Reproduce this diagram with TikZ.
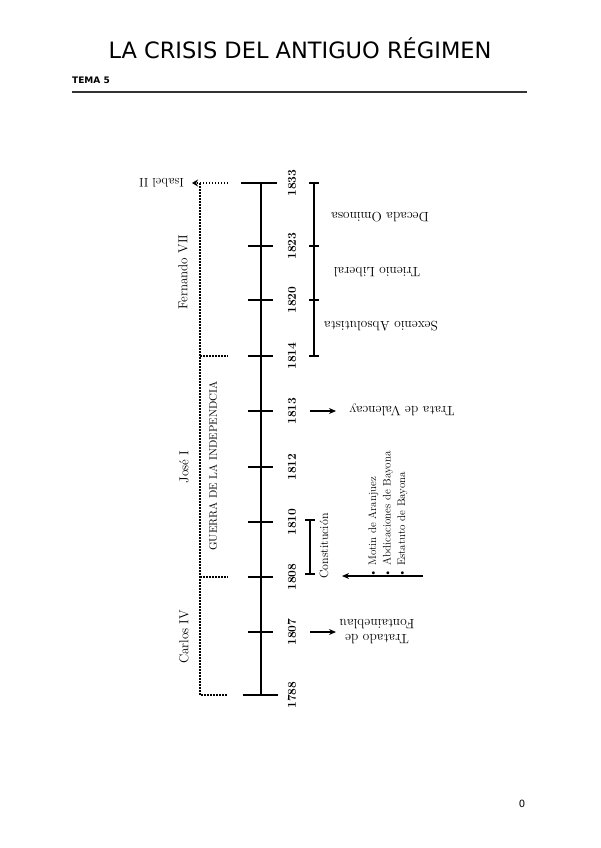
\documentclass[tikz,border=0pt]{standalone}
\usepackage{fontspec}
\newfontfamily\headfont{DejaVu Sans}
\usetikzlibrary{arrows.meta}
\begin{document}
\begin{tikzpicture}[x=1pt,y=-1pt,
  axis/.style={line width=1.8pt},
  brk/.style={line width=1.5pt},
  dots/.style={line width=1.8pt, dash pattern=on 1.5pt off 1.5pt},
  year/.style={rotate=90, font=\fontsize{12}{14}\selectfont\bfseries, inner sep=0},
  flip/.style={rotate=180, font=\fontsize{13.5}{15}\selectfont, inner sep=0, align=center},
  side/.style={rotate=90, font=\fontsize{13}{15}\selectfont, inner sep=0},
  arr/.style={line width=1.5pt, -{Stealth[length=7pt,width=6pt]}},
]
\useasboundingbox (0,0) rectangle (600,848);
\fill[white] (0,0) rectangle (600,848);

% header
\node[anchor=base, font=\headfont\fontsize{22.5}{26}\selectfont, inner sep=0] (title) at (300,59) {LA CRISIS DEL ANTIGUO RÉGIMEN};
\node[anchor=base west, font=\headfont\bfseries\fontsize{9}{10}\selectfont, inner sep=0] (tema) at (72,84) {TEMA 5};
\coordinate (rl) at (72,92);
\coordinate (rr) at (527,92);
\draw[line width=1.2pt, black!80] (rl) -- (rr);
\node[anchor=base, font=\headfont\fontsize{10}{12}\selectfont, inner sep=0] (page) at (522,807) {0};

% main axis
\foreach \yr/\yy in {1833/183,1823/246,1820/300,1814/356,1813/411,1812/467,1810/522,1808/577,1807/632,1788/695}{
  \coordinate (t\yr) at (261,\yy);
  \node[year] (l\yr) at (292,\yy) {\yr};
}
\draw[axis] (t1833) -- (t1788);
\foreach \yr in {1823,1820,1814,1813,1812,1810,1808,1807}{
  \draw[axis] ([xshift=-13pt]t\yr) -- ([xshift=12pt]t\yr);
}
\draw[axis] ([xshift=-20pt]t1833) -- ([xshift=16pt]t1833);
\draw[axis] ([xshift=-18pt]t1788) -- ([xshift=17pt]t1788);

% right bracket (Fernando VII periods)
\foreach \yr/\yy in {1833/183,1823/246,1820/300,1814/356}{
  \coordinate (r\yr) at (314,\yy);
  \draw[brk] ([xshift=-5pt]r\yr) -- ([xshift=5pt]r\yr);
}
\draw[brk] (r1833) -- (r1814);
\node[flip] (decada) at (380,217) {Decada Ominosa};
\node[flip] (trienio) at (377,272) {Trienio Liberal};
\node[flip] (sexenio) at (381,326) {Sexenio Absolutista};

% left dotted bracket (reigns)
\foreach \yr/\yy in {1833/183,1814/356,1808/577,1788/695}{
  \coordinate (d\yr) at (200,\yy);
  \coordinate (e\yr) at (228,\yy);
}
\coordinate (isa) at (192,183);
\draw[dots] (d1833) -- (d1788) -- (e1788);
\draw[dots] (d1814) -- (e1814);
\draw[dots] (d1808) -- (e1808);
\draw[dots, -{Stealth[length=6pt,width=7pt]}] (e1833) -- (isa);
\node[flip, font=\fontsize{12.5}{15}\selectfont, anchor=west] (isabel) at (184,183) {Isabel II};
\node[side] (fernando) at (183,272) {Fernando VII};
\node[side] (jose) at (184,467) {José I};
\node[side, font=\fontsize{10.9}{13}\selectfont] (guerra) at (213,466) {GUERRA DE LA INDEPENDCIA};
\node[side] (carlos) at (184,637) {Carlos IV};

% Constitución
\coordinate (c1) at (310,520);
\coordinate (c2) at (310,574);
\draw[brk] (c1) -- (c2);
\draw[brk] ([xshift=-5pt]c1) -- ([xshift=5pt]c1);
\draw[brk] ([xshift=-5pt]c2) -- ([xshift=5pt]c2);
\node[side, font=\fontsize{12}{14}\selectfont] (const) at (324,546) {Constitución};

% 1808 events
\node[rotate=90, anchor=north west, align=left, inner sep=0,
      font=\fontsize{11}{14.5}\selectfont] (events) at (368,578)
  {\textbullet\ Motin de Aranjuez\\\textbullet\ Abdicaciones de Bayona\\\textbullet\ Estatuto de Bayona};
\coordinate (bs) at (423,576);
\coordinate (be) at (342,576);
\draw[arr] (bs) -- (be);

% 1813
\coordinate (v1) at (310,411);
\coordinate (v2) at (336,411);
\draw[arr] (v1) -- (v2);
\node[flip] (valencay) at (402,410) {Trata de Valencay};

% 1807
\coordinate (f1) at (310,632);
\coordinate (f2) at (336,632);
\draw[arr] (f1) -- (f2);
\node[flip] (fontaine) at (377,632) {Tratado de\\Fontaineblau};
\end{tikzpicture}
\end{document}
